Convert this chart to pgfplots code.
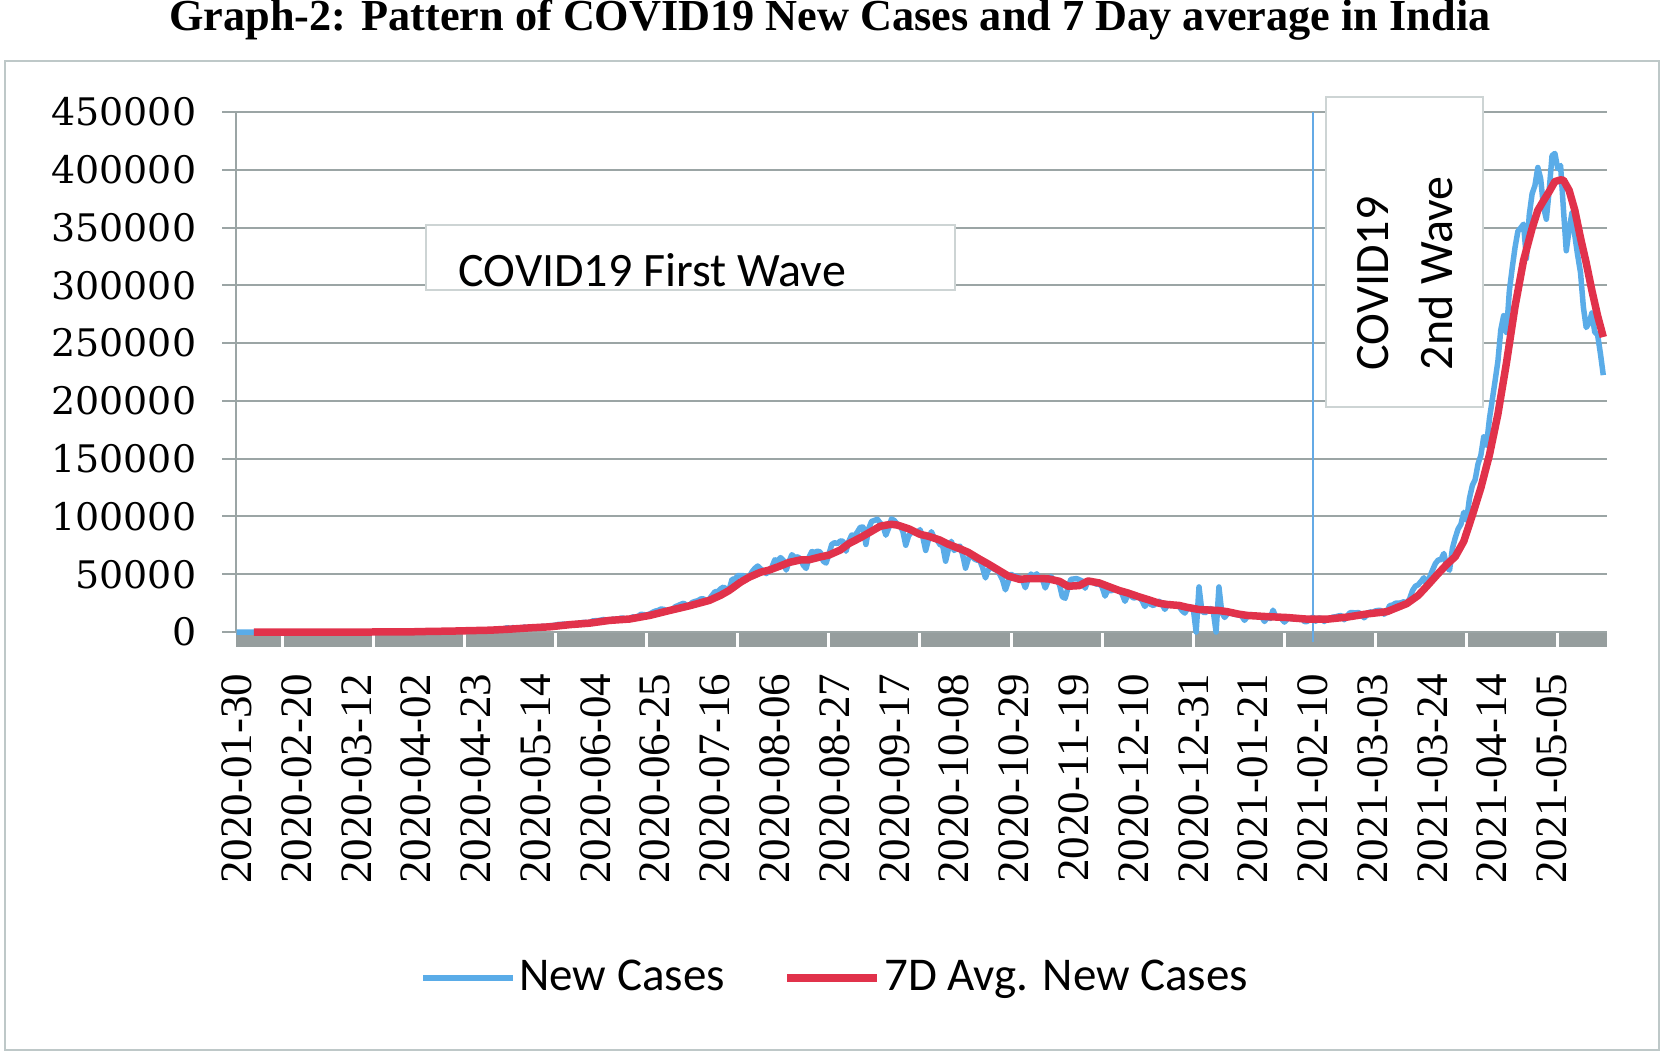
\documentclass[border=0pt]{standalone}
\usepackage{pgfplots}
\pgfplotsset{compat=1.18}
\usepackage{pgfplotstable}
\usepackage{fontspec}
\setmainfont{Liberation Serif}
\newfontfamily\dvs{DejaVu Serif}
\newfontfamily\carl{Carlito}
\definecolor{gridgray}{RGB}{155,165,165}
\definecolor{framegray}{RGB}{190,200,200}
\definecolor{bandgray}{RGB}{150,158,158}
\definecolor{boxgray}{RGB}{205,212,212}
\definecolor{ncblue}{RGB}{90,172,232}
\definecolor{avgred}{RGB}{225,50,75}
\definecolor{vblue}{RGB}{100,170,230}

\pgfplotstableread[row sep=\\]{
v\\
1\\ 0\\
0\\ 1\\ 1\\ 0\\ 0\\ 0\\ 0\\ 0\\ 0\\ 0\\ 0\\ 0\\ 0\\ 0\\ 0\\ 0\\ 0\\ 0\\ 0\\ 0\\ 0\\ 0\\ 0\\ 0\\ 0\\ 0\\ 0\\ 0\\ 0\\
0\\ 2\\ 1\\ 22\\ 2\\ 1\\ 3\\ 5\\ 4\\ 6\\ 6\\ 11\\ 8\\ 20\\ 10\\ 30\\ 12\\ 30\\ 45\\ 66\\ 60\\ 100\\ 70\\ 88\\ 76\\ 88\\ 130\\ 170\\ 120\\ 250\\ 180\\
400\\ 600\\ 500\\ 600\\ 500\\ 700\\ 500\\ 550\\ 600\\ 800\\ 900\\ 800\\ 700\\ 1000\\ 800\\ 1100\\ 900\\ 1200\\ 1500\\ 1300\\ 1500\\ 1300\\ 1650\\ 1400\\ 1800\\ 1600\\ 1500\\ 1800\\ 1700\\ 1800\\
2400\\ 2400\\ 2600\\ 3900\\ 2600\\ 3900\\ 3300\\ 3300\\ 3300\\ 4300\\ 3600\\ 3500\\ 3700\\ 3900\\ 3900\\ 4800\\ 5000\\ 4600\\ 5600\\ 5600\\ 6000\\ 6600\\ 6700\\ 6800\\ 6500\\ 6400\\ 6400\\ 7200\\ 7500\\ 7900\\ 8400\\
8200\\ 8200\\ 9600\\ 9800\\ 9900\\ 10400\\ 10900\\ 9900\\ 9900\\ 11100\\ 11000\\ 11300\\ 12000\\ 11900\\ 10700\\ 10700\\ 13100\\ 12900\\ 13600\\ 15400\\ 15000\\ 14800\\ 15600\\ 16900\\ 18100\\ 18600\\ 19900\\ 19600\\ 18500\\ 18700\\
19100\\ 21900\\ 22800\\ 24000\\ 24900\\ 23000\\ 23100\\ 25600\\ 26500\\ 27100\\ 28600\\ 28700\\ 26500\\ 28500\\ 31800\\ 34900\\ 34900\\ 37400\\ 38900\\ 37100\\ 37100\\ 45700\\ 45700\\ 48900\\ 48700\\ 48900\\ 46500\\ 47700\\ 52100\\ 55100\\ 57100\\
54700\\ 52900\\ 50600\\ 52500\\ 56300\\ 62500\\ 61500\\ 64400\\ 62100\\ 53600\\ 60900\\ 66900\\ 64500\\ 65000\\ 63500\\ 57900\\ 55000\\ 64500\\ 69600\\ 68900\\ 69900\\ 69200\\ 61400\\ 59700\\ 67200\\ 75800\\ 77300\\ 76500\\ 78800\\ 78500\\ 69900\\
78400\\ 83900\\ 83300\\ 86400\\ 90600\\ 90800\\ 75800\\ 89700\\ 95700\\ 96600\\ 97600\\ 94400\\ 92100\\ 83800\\ 90100\\ 97900\\ 96400\\ 93300\\ 92600\\ 86900\\ 75100\\ 83300\\ 86500\\ 86100\\ 85400\\ 88600\\ 82200\\ 70600\\ 80500\\ 86800\\
81500\\ 79500\\ 75800\\ 74400\\ 61300\\ 72000\\ 78500\\ 70500\\ 73300\\ 74400\\ 66700\\ 55300\\ 63500\\ 67700\\ 63400\\ 62200\\ 61900\\ 55700\\ 46800\\ 54000\\ 55800\\ 54400\\ 53400\\ 50100\\ 45100\\ 36500\\ 43900\\ 49900\\ 48600\\ 48300\\ 46900\\
45200\\ 38300\\ 46300\\ 50200\\ 47600\\ 50400\\ 45700\\ 45900\\ 38100\\ 44300\\ 47900\\ 44900\\ 44900\\ 41100\\ 30500\\ 29200\\ 38600\\ 45600\\ 45900\\ 46200\\ 45200\\ 44100\\ 37900\\ 44400\\ 44500\\ 43100\\ 41300\\ 41800\\ 38800\\ 31100\\
36600\\ 35600\\ 36600\\ 36700\\ 36000\\ 32900\\ 26600\\ 32100\\ 31500\\ 29400\\ 30000\\ 30300\\ 27100\\ 22100\\ 26400\\ 24000\\ 22900\\ 25100\\ 26600\\ 24300\\ 19600\\ 23900\\ 24700\\ 23100\\ 23100\\ 22300\\ 18700\\ 16400\\ 20500\\ 21800\\ 20000\\
0\\ 39000\\ 18200\\ 16500\\ 18100\\ 20300\\ 18100\\ 0\\ 39000\\ 16900\\ 12600\\ 15900\\ 16900\\ 15600\\ 15100\\ 15100\\ 13800\\ 10100\\ 13800\\ 15200\\ 14500\\ 14300\\ 14200\\ 13200\\ 9100\\ 12700\\ 11700\\ 18900\\ 13100\\ 13000\\ 11400\\
8600\\ 11000\\ 12900\\ 11000\\ 12400\\ 11700\\ 11800\\ 9100\\ 9100\\ 11100\\ 12900\\ 9300\\ 12200\\ 11600\\ 9100\\ 11600\\ 11600\\ 12900\\ 13200\\ 13900\\ 14300\\ 10600\\ 13700\\ 16700\\ 16700\\ 16600\\ 16800\\ 15500\\
12300\\ 14900\\ 17400\\ 17000\\ 18300\\ 18700\\ 18600\\ 15400\\ 17900\\ 22900\\ 23300\\ 24900\\ 24900\\ 25300\\ 26300\\ 24500\\ 28900\\ 35900\\ 39700\\ 40900\\ 43800\\ 47000\\ 40700\\ 47300\\ 53500\\ 59100\\ 62300\\ 62700\\ 68000\\ 56200\\ 53500\\
72330\\ 81466\\ 89129\\ 93249\\ 103558\\ 96982\\ 115736\\ 126789\\ 131968\\ 145384\\ 152879\\ 168912\\ 161736\\ 184372\\ 200739\\ 217353\\ 234692\\ 261500\\ 273810\\ 259170\\ 295041\\ 314835\\ 332730\\ 346786\\ 349691\\ 352991\\ 323144\\ 360960\\ 379257\\ 386452\\
401993\\ 392488\\ 368147\\ 357229\\ 382315\\ 412262\\ 414188\\ 401078\\ 403738\\ 366161\\ 329942\\ 348421\\ 362727\\ 343144\\ 326098\\ 311170\\ 281386\\ 263533\\ 267334\\ 276110\\ 259551\\ 257299\\ 240842\\ 222315\\
}\newcases

\pgfplotstableread[row sep=\\]{
x y\\
6 0\\ 30 0\\ 45 5\\ 55 40\\ 61 150\\ 68 540\\ 75 760\\ 82 1190\\ 89 1580\\ 96 2490\\ 103 3600\\ 110 4500\\ 117 6370\\ 124 7690\\ 131 10060\\ 138 11240\\ 145 14340\\ 152 18610\\ 159 22690\\ 166 27360\\ 170 31810\\ 173 36010\\ 177 43160\\ 180 47440\\ 184 51730\\ 187 53570\\ 191 57240\\ 194 60190\\ 198 62360\\ 201 62470\\ 205 65000\\ 208 66560\\ 212 70960\\ 215 76460\\ 219 81570\\ 222 85790\\ 226 91510\\ 229 92900\\ 230 93210\\ 232 92570\\ 236 89360\\ 240 84560\\ 243 82840\\ 247 79560\\ 250 75900\\ 254 72060\\ 257 68890\\ 261 62960\\ 264 58810\\ 268 52890\\ 271 48460\\ 275 45600\\ 278 46210\\ 282 46240\\ 285 46030\\ 289 43870\\ 292 39590\\ 296 40170\\ 299 44190\\ 303 42440\\ 306 39600\\ 310 35910\\ 313 33790\\ 317 30400\\ 320 28110\\ 324 24890\\ 327 23770\\ 331 23000\\ 334 21260\\ 338 19490\\ 341 19090\\ 345 18600\\ 348 17540\\ 352 15440\\ 355 14340\\ 362 13310\\ 369 12530\\ 376 11140\\ 383 11110\\ 390 12890\\ 397 15640\\ 404 17610\\ 411 24590\\ 415 31640\\ 418 39560\\ 422 50530\\ 425 58440\\ 428 65210\\ 431 78490\\ 434 100990\\ 437 124760\\ 440 153150\\ 443 188670\\ 446 233090\\ 449 281680\\ 452 321610\\ 455 349370\\ 457 364930\\ 459 373210\\ 461 381130\\ 463 389800\\ 465 391280\\ 466 391000\\ 468 382260\\ 470 365030\\ 472 341100\\ 474 319500\\ 476 295540\\ 478 273770\\ 480 255280\\
}\avgcases

\begin{document}
\begin{tikzpicture}[x=0.1mm,y=0.1mm]
\path[use as bounding box] (0,0) rectangle (1664,-1055);
\draw[framegray, line width=0.2mm] (5,-61) rectangle (1659,-1050);
\node[anchor=base, inner sep=0pt, font=\bfseries\fontsize{12.6}{14}\selectfont] at (830,-30) {Graph-2: Pattern of COVID19 New Cases and 7 Day average in India};
% band of daily category ticks
\fill[bandgray] (236,-633) rectangle (1607,-647);
\foreach \k in {0,...,14} \fill[white] ({236.7+2.847*(16+32*\k)-1.5},-633) rectangle ++(3,-14);
\foreach \i in {0,...,9} \draw[gridgray, line width=0.2mm] (222,{-632+57.78*\i}) -- (236,{-632+57.78*\i});
\begin{axis}[
  at={(23.6mm,-63.2mm)}, anchor=south west,
  scale only axis, width=137.1mm, height=52mm,
  xmin=-0.25, xmax=481.3, ymin=0, ymax=450000,
  scaled y ticks=false, scaled x ticks=false,
  axis lines*=left,
  axis line style={gridgray, line width=0.2mm},
  ymajorgrids, grid style={gridgray, line width=0.2mm},
  ytick={0,50000,100000,150000,200000,250000,300000,350000,400000,450000},
  yticklabels={0,50000,100000,150000,200000,250000,300000,350000,400000,450000},
  xtick={0,21,...,462},
  xticklabels={2020-01-30,2020-02-20,2020-03-12,2020-04-02,2020-04-23,2020-05-14,2020-06-04,2020-06-25,2020-07-16,2020-08-06,2020-08-27,2020-09-17,2020-10-08,2020-10-29,2020-11-19,2020-12-10,2020-12-31,2021-01-21,2021-02-10,2021-03-03,2021-03-24,2021-04-14,2021-05-05},
  tick style={draw=none},
  yticklabel style={font=\dvs\fontsize{10.8}{12}\selectfont, anchor=east, inner sep=0pt},
  yticklabel shift=3.9mm,
  xticklabel style={font=\fontsize{12.8}{14}\selectfont, rotate=90, anchor=east, inner sep=0pt},
  xticklabel shift=4.1mm,
  clip=false,
  legend style={at={(axis description cs:0.4376,-0.6654)}, anchor=center, draw=none, fill=none,
     legend columns=2, font=\carl\fontsize{13.37}{15}\selectfont,
     /tikz/every even column/.append style={column sep=5.5mm},
     nodes={inner xsep=0.35mm, inner ysep=0pt}},
  legend cell align=left,
  legend image code/.code={\draw[#1] (0mm,0mm) -- (9mm,0mm);},
]
\draw[vblue, line width=0.2mm] (axis cs:378,450000) -- ([yshift=-1mm]axis cs:378,0);
\addplot[ncblue, line width=0.55mm, line join=round] table[x expr=\coordindex, y=v] {\newcases};
\addlegendentry{New Cases}
\addplot[avgred, line width=0.75mm, line join=round] table[x=x, y=y] {\avgcases};
\addlegendentry{7D Avg. New Cases}
\end{axis}
\filldraw[fill=white, draw=boxgray, line width=0.15mm] (426,-225) rectangle (955,-290);
\node[anchor=base west, inner sep=0pt, font=\carl\fontsize{13.66}{16}\selectfont] at (458,-286) {COVID19 First Wave};
\filldraw[fill=white, draw=boxgray, line width=0.15mm] (1326,-97) rectangle (1483,-407);
\node[rotate=90, anchor=base west, inner sep=0pt, font=\carl\fontsize{13.66}{16}\selectfont] at (1388,-371) {COVID19};
\node[rotate=90, anchor=base west, inner sep=0pt, font=\carl\fontsize{13.66}{16}\selectfont] at (1452,-371) {2nd Wave};
\end{tikzpicture}
\end{document}
